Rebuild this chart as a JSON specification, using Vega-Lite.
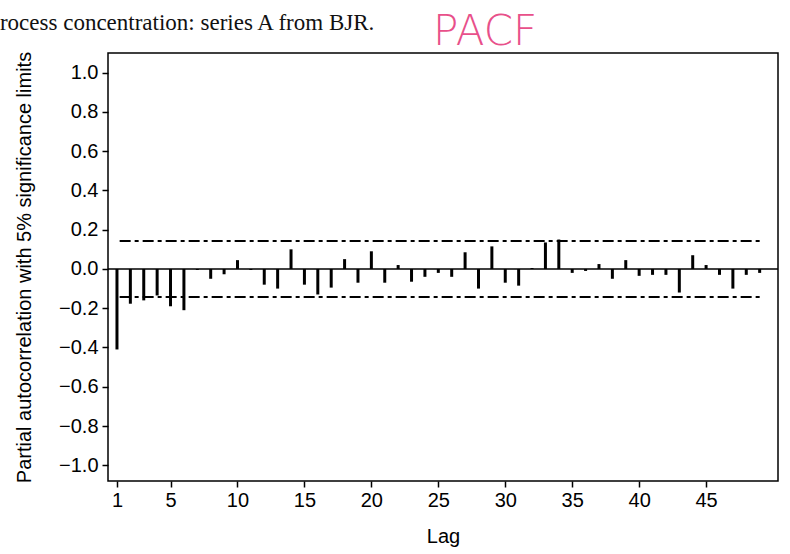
{
  "$schema": "https://vega.github.io/schema/vega-lite/v6.json",
  "autosize": {"type": "none"},
  "width": 670,
  "height": 428,
  "padding": {"left": 108, "top": 53, "right": 12, "bottom": 73},
  "background": "white",
  "config": {
    "view": {"stroke": "black", "strokeWidth": 1.5},
    "axis": {"grid": false, "domain": false, "tickColor": "black", "tickWidth": 1.5, "tickSize": 6,
             "labelFont": "Liberation Sans", "labelFontSize": 20, "labelColor": "black",
             "titleFont": "Liberation Sans", "titleFontSize": 20, "titleFontWeight": "normal", "titleColor": "black"}
  },
  "datasets": {
    "pacf": [
      {"lag": 1, "pacf": -0.41}, {"lag": 2, "pacf": -0.177}, {"lag": 3, "pacf": -0.16}, {"lag": 4, "pacf": -0.135},
      {"lag": 5, "pacf": -0.19}, {"lag": 6, "pacf": -0.21}, {"lag": 7, "pacf": -0.005}, {"lag": 8, "pacf": -0.05},
      {"lag": 9, "pacf": -0.027}, {"lag": 10, "pacf": 0.045}, {"lag": 11, "pacf": -0.005}, {"lag": 12, "pacf": -0.08},
      {"lag": 13, "pacf": -0.1}, {"lag": 14, "pacf": 0.1}, {"lag": 15, "pacf": -0.08}, {"lag": 16, "pacf": -0.13},
      {"lag": 17, "pacf": -0.095}, {"lag": 18, "pacf": 0.05}, {"lag": 19, "pacf": -0.07}, {"lag": 20, "pacf": 0.09},
      {"lag": 21, "pacf": -0.07}, {"lag": 22, "pacf": 0.02}, {"lag": 23, "pacf": -0.065}, {"lag": 24, "pacf": -0.04},
      {"lag": 25, "pacf": -0.02}, {"lag": 26, "pacf": -0.04}, {"lag": 27, "pacf": 0.085}, {"lag": 28, "pacf": -0.1},
      {"lag": 29, "pacf": 0.115}, {"lag": 30, "pacf": -0.07}, {"lag": 31, "pacf": -0.085}, {"lag": 32, "pacf": 0.005},
      {"lag": 33, "pacf": 0.135}, {"lag": 34, "pacf": 0.15}, {"lag": 35, "pacf": -0.02}, {"lag": 36, "pacf": -0.01},
      {"lag": 37, "pacf": 0.025}, {"lag": 38, "pacf": -0.05}, {"lag": 39, "pacf": 0.045}, {"lag": 40, "pacf": -0.035},
      {"lag": 41, "pacf": -0.03}, {"lag": 42, "pacf": -0.03}, {"lag": 43, "pacf": -0.12}, {"lag": 44, "pacf": 0.07},
      {"lag": 45, "pacf": 0.02}, {"lag": 46, "pacf": -0.03}, {"lag": 47, "pacf": -0.1}, {"lag": 48, "pacf": -0.03},
      {"lag": 49, "pacf": -0.02}
    ],
    "limits": [
      {"from": 1.2, "to": 49, "limit": 0.1425},
      {"from": 1.2, "to": 49, "limit": -0.1425}
    ],
    "notes": [
      {"text": "rocess concentration: series A from BJR.", "kind": "caption"},
      {"text": "PACF", "kind": "handwritten"}
    ]
  },
  "layer": [
    {
      "data": {"name": "pacf"},
      "mark": {"type": "rule", "color": "black", "strokeWidth": 3},
      "encoding": {
        "x": {"field": "lag", "type": "quantitative",
              "scale": {"domain": [0.33, 50.37], "nice": false, "zero": false},
              "axis": {"values": [1, 5, 10, 15, 20, 25, 30, 35, 40, 45], "title": "Lag", "labelPadding": 3, "titlePadding": 16}},
        "y": {"field": "pacf", "type": "quantitative",
              "scale": {"domain": [-1.08, 1.1], "nice": false, "zero": false},
              "axis": {"values": [-1, -0.8, -0.6, -0.4, -0.2, 0, 0.2, 0.4, 0.6, 0.8, 1], "format": ".1f",
                       "title": "Partial autocorrelation with 5% significance limits", "labelPadding": 4, "titlePadding": 24}},
        "y2": {"datum": 0}
      }
    },
    {
      "data": {"values": [{"level": 0}]},
      "mark": {"type": "rule", "color": "black", "strokeWidth": 1.5},
      "encoding": {"y": {"field": "level", "type": "quantitative"}}
    },
    {
      "data": {"name": "limits"},
      "mark": {"type": "rule", "color": "black", "strokeWidth": 2, "strokeDash": [11, 4, 4, 4]},
      "encoding": {
        "x": {"field": "from", "type": "quantitative"},
        "x2": {"field": "to"},
        "y": {"field": "limit", "type": "quantitative"}
      }
    },
    {
      "data": {"name": "notes"},
      "transform": [{"filter": "datum.kind === 'caption'"}],
      "mark": {"type": "text", "align": "left", "baseline": "alphabetic", "font": "Liberation Serif", "fontSize": 23, "color": "#111", "clip": false},
      "encoding": {"text": {"field": "text"}, "x": {"datum": -7.74}, "y": {"datum": 1.215}}
    },
    {
      "data": {"name": "notes"},
      "transform": [{"filter": "datum.kind === 'handwritten'"}],
      "mark": {"type": "text", "align": "center", "baseline": "middle", "font": "DejaVu Sans", "fontWeight": 200, "fontSize": 42, "color": "#e8508a", "clip": false},
      "encoding": {"text": {"field": "text"}, "x": {"datum": 28.5}, "y": {"datum": 1.205}}
    }
  ]
}
